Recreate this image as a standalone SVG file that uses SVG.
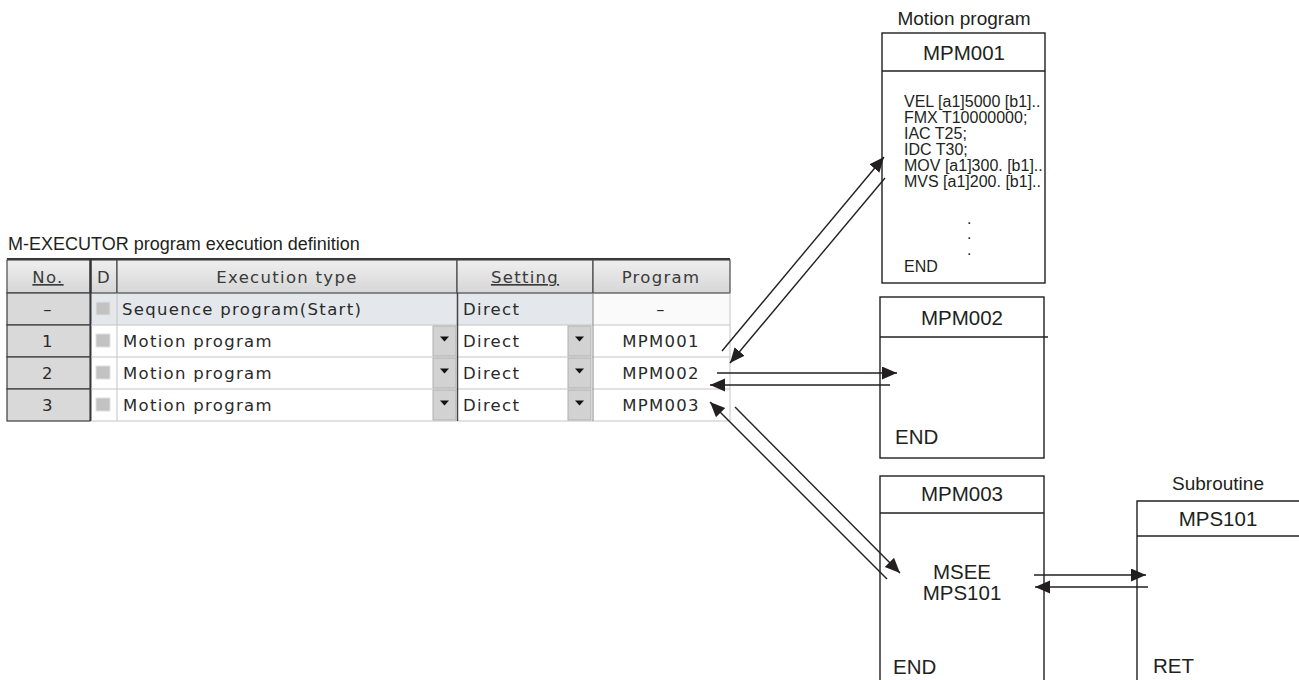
<svg xmlns="http://www.w3.org/2000/svg" width="1299" height="680" viewBox="0 0 1299 680">
<style>
.t{font-family:"DejaVu Sans",sans-serif;font-size:16.5px;fill:#2a2a2a;letter-spacing:1.3px}
.h{font-family:"DejaVu Sans",sans-serif;font-size:16.5px;fill:#3a3a3a;letter-spacing:1.3px}
.a{font-family:"Liberation Sans",Arial,sans-serif;fill:#231f20}
.big{font-size:20.5px}
.code{font-size:16px}
.lbl{font-size:19px}
.box{fill:#fff;stroke:#231f20;stroke-width:1.4}
.ln{stroke:#231f20;stroke-width:1.4;fill:none}
.con{stroke:#231f20;stroke-width:1.4;fill:none;marker-end:url(#ah)}
.hc{fill:url(#hg);stroke:#4a4a4a;stroke-width:1.2}
.nc{fill:#d9d9d9;stroke:#3c3c3c;stroke-width:1.2}
.cb{fill:#c2c2c2;stroke:#e0e0e0;stroke-width:1}
.dd{fill:#d2d2d2;stroke:#b0b0b0;stroke-width:1}
.sep{stroke:#c4c4c4;stroke-width:1}
</style>
<defs>
<linearGradient id="hg" x1="0" y1="0" x2="0" y2="1">
<stop offset="0" stop-color="#efefef"/>
<stop offset="1" stop-color="#d6d6d6"/>
</linearGradient>
<marker id="ah" markerUnits="userSpaceOnUse" markerWidth="16" markerHeight="14" refX="15" refY="6.5" orient="auto">
<path d="M0,0 L15,6.5 L0,13 z" fill="#231f20"/>
</marker>
<path id="tri" d="M-4.5,-2.5 L4.5,-2.5 L0,2.5 z" fill="#111"/>
</defs>

<text class="a" x="8" y="250" font-size="18">M-EXECUTOR program execution definition</text>

<g id="table">
<rect x="90" y="293" width="503" height="32" fill="#e4e7eb"/>
<rect x="593" y="293" width="137" height="32" fill="#fafafa"/>
<rect x="90" y="325" width="640" height="96" fill="#ffffff"/>
<line x1="7" y1="259" x2="730" y2="259" stroke="#333" stroke-width="2"/>
<rect class="hc" x="7" y="260" width="83" height="33"/>
<rect class="hc" x="91" y="260" width="26" height="33"/>
<rect class="hc" x="117" y="260" width="340" height="33"/>
<rect class="hc" x="457" y="260" width="136" height="33"/>
<rect class="hc" x="593" y="260" width="137" height="33"/>
<line x1="90.5" y1="259" x2="90.5" y2="421" stroke="#333" stroke-width="2"/>
<text class="h" x="48" y="283" text-anchor="middle" text-decoration="underline">No.</text>
<text class="h" x="104" y="283" text-anchor="middle">D</text>
<text class="h" x="287" y="283" text-anchor="middle">Execution type</text>
<text class="h" x="525" y="283" text-anchor="middle" text-decoration="underline">Setting</text>
<text class="h" x="661" y="283" text-anchor="middle">Program</text>
<rect class="nc" x="7" y="293" width="83" height="32"/>
<rect class="nc" x="7" y="325" width="83" height="32"/>
<rect class="nc" x="7" y="357" width="83" height="32"/>
<rect class="nc" x="7" y="389" width="83" height="32"/>
<text class="t" x="48" y="315" text-anchor="middle">–</text>
<text class="t" x="48" y="347" text-anchor="middle">1</text>
<text class="t" x="48" y="379" text-anchor="middle">2</text>
<text class="t" x="48" y="411" text-anchor="middle">3</text>
<line class="sep" x1="91" y1="325" x2="730" y2="325"/>
<line class="sep" x1="91" y1="357" x2="730" y2="357"/>
<line class="sep" x1="91" y1="389" x2="730" y2="389"/>
<line class="sep" x1="91" y1="421" x2="730" y2="421"/>
<line class="sep" x1="117" y1="293" x2="117" y2="421"/>
<line x1="457.5" y1="293" x2="457.5" y2="421" stroke="#444" stroke-width="1.5"/>
<line x1="593" y1="293" x2="593" y2="421" stroke="#9a9a9a" stroke-width="1.2"/>
<line class="sep" x1="730" y1="293" x2="730" y2="421"/>
<rect class="cb" x="96" y="302" width="14" height="13"/>
<rect class="cb" x="96" y="334" width="14" height="13"/>
<rect class="cb" x="96" y="366" width="14" height="13"/>
<rect class="cb" x="96" y="398" width="14" height="13"/>
<rect class="dd" x="433" y="326" width="23" height="30"/>
<rect class="dd" x="433" y="358" width="23" height="30"/>
<rect class="dd" x="433" y="390" width="23" height="30"/>
<rect class="dd" x="568" y="326" width="23" height="30"/>
<rect class="dd" x="568" y="358" width="23" height="30"/>
<rect class="dd" x="568" y="390" width="23" height="30"/>
<use href="#tri" x="444.5" y="339"/>
<use href="#tri" x="444.5" y="371"/>
<use href="#tri" x="444.5" y="403"/>
<use href="#tri" x="579.5" y="339"/>
<use href="#tri" x="579.5" y="371"/>
<use href="#tri" x="579.5" y="403"/>
<text class="t" x="122" y="315">Sequence program(Start)</text>
<text class="t" x="123" y="347">Motion program</text>
<text class="t" x="123" y="379">Motion program</text>
<text class="t" x="123" y="411">Motion program</text>
<text class="t" x="463" y="315">Direct</text>
<text class="t" x="463" y="347">Direct</text>
<text class="t" x="463" y="379">Direct</text>
<text class="t" x="463" y="411">Direct</text>
<text class="t" x="661" y="315" text-anchor="middle">–</text>
<text class="t" x="661" y="347" text-anchor="middle">MPM001</text>
<text class="t" x="661" y="379" text-anchor="middle">MPM002</text>
<text class="t" x="661" y="411" text-anchor="middle">MPM003</text>
</g>

<g id="mpm001">
<text class="a lbl" x="964" y="25" text-anchor="middle">Motion program</text>
<rect class="box" x="882" y="33" width="163" height="250"/>
<line class="ln" x1="882" y1="71" x2="1045" y2="71"/>
<text class="a big" x="964" y="60" text-anchor="middle">MPM001</text>
<text class="a code" x="904" y="107">VEL [a1]5000 [b1]..</text>
<text class="a code" x="904" y="123">FMX T10000000;</text>
<text class="a code" x="904" y="139">IAC T25;</text>
<text class="a code" x="904" y="155">IDC T30;</text>
<text class="a code" x="904" y="171">MOV [a1]300. [b1]..</text>
<text class="a code" x="904" y="187">MVS [a1]200. [b1]..</text>
<text class="a code" x="967" y="224">.</text>
<text class="a code" x="967" y="239">.</text>
<text class="a code" x="967" y="255">.</text>
<text class="a code" x="904" y="272">END</text>
</g>

<g id="mpm002">
<rect class="box" x="880" y="297" width="164" height="161"/>
<line class="ln" x1="880" y1="337" x2="1048" y2="337"/>
<text class="a big" x="962" y="325" text-anchor="middle">MPM002</text>
<text class="a big" x="895" y="444">END</text>
</g>

<g id="mpm003">
<rect class="box" x="880" y="476" width="164" height="220"/>
<line class="ln" x1="880" y1="513" x2="1044" y2="513"/>
<text class="a big" x="962" y="501" text-anchor="middle">MPM003</text>
<text class="a big" x="962" y="579" text-anchor="middle">MSEE</text>
<text class="a big" x="962" y="600" text-anchor="middle">MPS101</text>
<text class="a big" x="893" y="674">END</text>
</g>

<g id="mps101">
<text class="a lbl" x="1218" y="490" text-anchor="middle">Subroutine</text>
<path class="ln" d="M1137,690 V501 H1300"/>
<line class="ln" x1="1137" y1="536" x2="1300" y2="536"/>
<text class="a big" x="1218" y="526" text-anchor="middle">MPS101</text>
<text class="a big" x="1153" y="673">RET</text>
</g>

<g id="connectors">
<line class="con" x1="722" y1="351" x2="884" y2="157"/>
<line class="con" x1="885" y1="178" x2="730" y2="363"/>
<line class="con" x1="717" y1="373" x2="897" y2="373"/>
<line class="con" x1="890" y1="385" x2="710" y2="385"/>
<line class="con" x1="735" y1="407" x2="900" y2="573"/>
<line class="con" x1="887" y1="579" x2="710" y2="402"/>
<line class="con" x1="1034" y1="575" x2="1146" y2="575"/>
<line class="con" x1="1148" y1="587" x2="1035" y2="587"/>
</g>
</svg>
